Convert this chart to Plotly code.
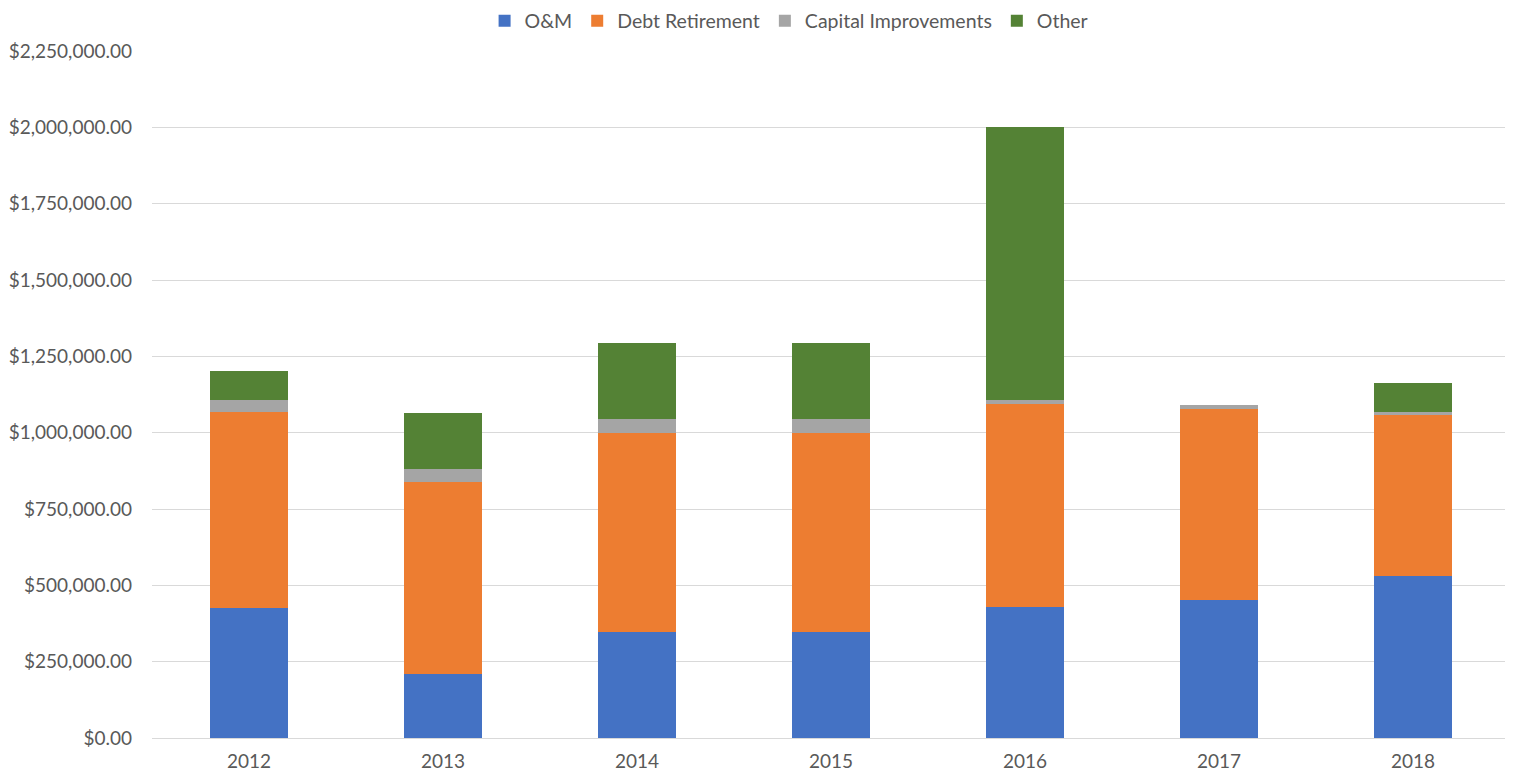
import plotly.graph_objects as go

years = ["2012", "2013", "2014", "2015", "2016", "2017", "2018"]
om = [427000, 210000, 347000, 347000, 430000, 453000, 530000]
debt = [641000, 630000, 652000, 652000, 665000, 625000, 529000]
capital = [39000, 40000, 45000, 45000, 12000, 11000, 10000]
other = [94000, 183000, 250000, 250000, 893000, 0, 94000]

series = [
    ("O&M", om, "#4472C4"),
    ("Debt Retirement", debt, "#ED7D31"),
    ("Capital Improvements", capital, "#A5A5A5"),
    ("Other", other, "#548235"),
]

fig = go.Figure()
for name, vals, color in series:
    fig.add_trace(go.Bar(name=name, x=years, y=vals, marker=dict(color=color, line=dict(width=0))))

W, H = 1505, 774
fig.update_layout(
    barmode="stack",
    bargap=0.6,
    width=W,
    height=H,
    margin=dict(l=144, r=3, t=43, b=44, autoexpand=False),
    paper_bgcolor="white",
    plot_bgcolor="white",
    font=dict(family="Lato, Open Sans, sans-serif", size=19, color="#595959"),
    legend=dict(
        orientation="h",
        x=0.519,
        xanchor="center",
        xref="container",
        y=1 - 13 / H,
        yref="container",
        yanchor="middle",
        font=dict(size=19.5, color="#595959"),
        traceorder="normal",
        tracegroupgap=0,
        borderwidth=0,
    ),
    showlegend=True,
)
fig.update_yaxes(
    range=[0, 2250000],
    dtick=250000,
    tick0=0,
    tickformat="$,.2f",
    gridcolor="#D9D9D9",
    gridwidth=1,
    zeroline=True,
    zerolinecolor="#D9D9D9",
    zerolinewidth=1,
    showline=False,
    ticks="",
    ticklabelstandoff=19,
)
fig.update_xaxes(showline=False, ticks="", showgrid=False, ticklabelstandoff=10)

fig.write_html("out.html")
